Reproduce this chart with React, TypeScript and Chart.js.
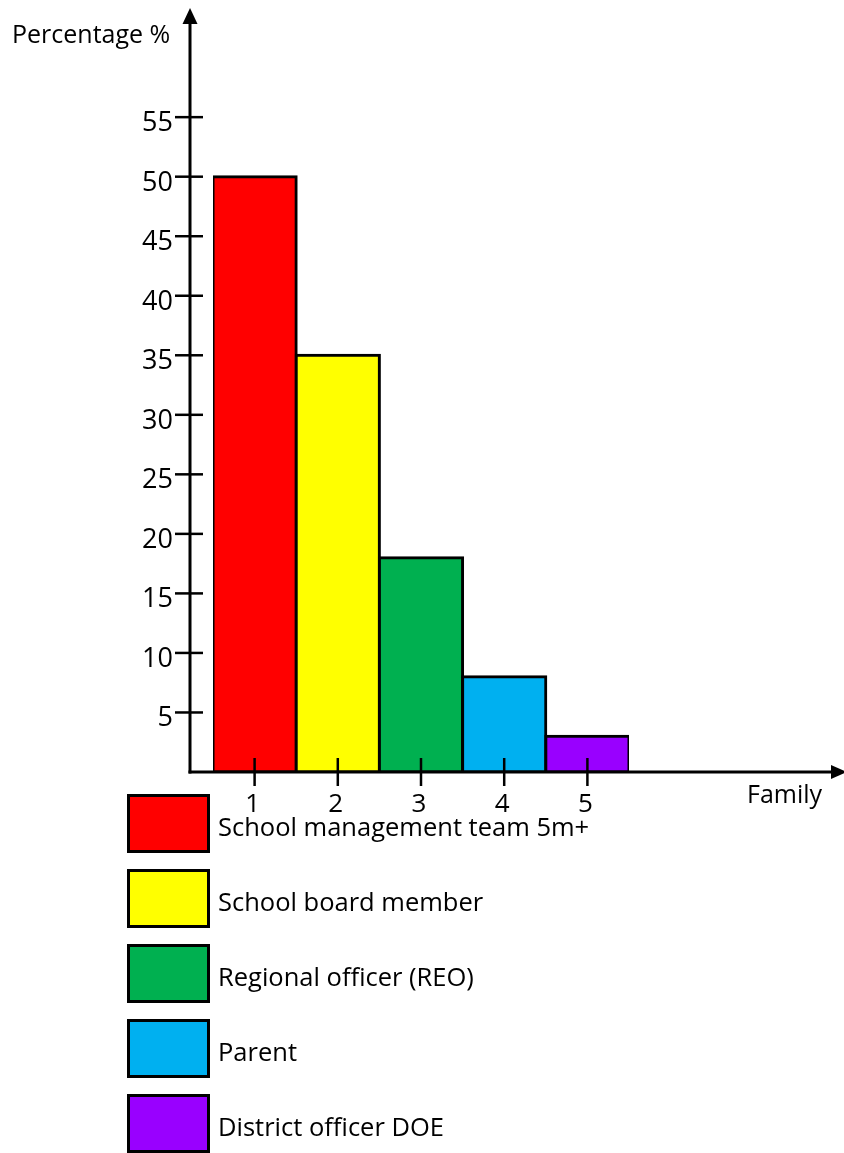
import React, { useEffect, useRef } from "react";
import { Chart, registerables } from "chart.js";

Chart.register(...registerables);

const categories = ["1", "2", "3", "4", "5"];
const values = [50, 35, 18, 8, 3];
const seriesNames = [
  "School management team 5m+",
  "School board member",
  "Regional officer (REO)",
  "Parent",
  "District officer DOE",
];
const barColors = ["#FF0000", "#FFFF00", "#00B050", "#00B0F0", "#9900FF"];
const yTickValues = [5, 10, 15, 20, 25, 30, 35, 40, 45, 50, 55];
const yAxisTitle = "Percentage %";
const xAxisTitle = "Family";

const FONT = '"Open Sans", "Noto Sans", sans-serif';
const W = 844;
const H = 1153;

const axesPlugin = {
  id: "handDrawnAxes",
  afterDatasetsDraw(chart: any) {
    const { ctx, chartArea, scales } = chart;
    const yS = scales.y;
    const xS = scales.x;
    const axisX = chartArea.left - 23;
    const axisY = yS.getPixelForValue(0);
    ctx.save();
    ctx.strokeStyle = "#000";
    ctx.fillStyle = "#000";
    ctx.lineCap = "butt";

    // y axis with arrow
    const tipY = chartArea.top - 2;
    ctx.lineWidth = 3;
    ctx.beginPath();
    ctx.moveTo(axisX, axisY + 1.5);
    ctx.lineTo(axisX, tipY + 14);
    ctx.stroke();
    ctx.beginPath();
    ctx.moveTo(axisX, tipY);
    ctx.lineTo(axisX - 7.5, tipY + 16);
    ctx.lineTo(axisX + 7.5, tipY + 16);
    ctx.closePath();
    ctx.fill();

    // x axis with arrow
    const tipX = chart.width + 3;
    ctx.beginPath();
    ctx.moveTo(axisX - 1.5, axisY);
    ctx.lineTo(tipX - 14, axisY);
    ctx.stroke();
    ctx.beginPath();
    ctx.moveTo(tipX, axisY);
    ctx.lineTo(tipX - 16, axisY - 7);
    ctx.lineTo(tipX - 16, axisY + 7);
    ctx.closePath();
    ctx.fill();

    // y ticks
    ctx.lineWidth = 2.5;
    ctx.font = `27px ${FONT}`;
    ctx.textAlign = "right";
    ctx.textBaseline = "alphabetic";
    yTickValues.forEach((v) => {
      const py = yS.getPixelForValue(v);
      ctx.beginPath();
      ctx.moveTo(axisX - 15, py);
      ctx.lineTo(axisX + 13, py);
      ctx.stroke();
      ctx.fillText(String(v), axisX - 17, py + 14);
    });

    // x ticks
    ctx.textAlign = "center";
    ctx.font = `26px ${FONT}`;
    categories.forEach((c, i) => {
      const px = xS.getPixelForValue(i);
      ctx.beginPath();
      ctx.moveTo(px, axisY - 14);
      ctx.lineTo(px, axisY + 14);
      ctx.stroke();
      ctx.fillText(c, px - 2, axisY + 40);
    });

    // titles
    ctx.font = `25px ${FONT}`;
    ctx.textAlign = "left";
    ctx.fillText(yAxisTitle, 12, chartArea.top + 33);
    ctx.fillText(xAxisTitle, 747, axisY + 31);

    // legend
    const boxLeft = 127;
    const boxW = 83;
    const boxH = 59;
    const firstTop = axisY + 22;
    const pitch = 75;
    ctx.font = `25.5px ${FONT}`;
    seriesNames.forEach((name, i) => {
      const top = firstTop + i * pitch;
      ctx.fillStyle = barColors[i];
      ctx.fillRect(boxLeft, top, boxW, boxH);
      ctx.lineWidth = 3;
      ctx.strokeStyle = "#000";
      ctx.strokeRect(boxLeft + 1.5, top + 1.5, boxW - 3, boxH - 3);
      ctx.fillStyle = "#000";
      ctx.fillText(name, boxLeft + boxW + 8, top + 42);
    });
    ctx.restore();
  },
};

export default function App() {
  const canvasRef = useRef<HTMLCanvasElement | null>(null);

  useEffect(() => {
    let chart: Chart | null = null;
    let cancelled = false;
    const build = () => {
      if (cancelled || !canvasRef.current) return;
      chart = new Chart(canvasRef.current, {
        type: "bar",
        data: {
          labels: categories,
          datasets: [
            {
              data: values,
              backgroundColor: barColors,
              borderColor: "#000",
              borderWidth: 3,
              borderSkipped: false,
              inflateAmount: 1.5,
              categoryPercentage: 1,
              barPercentage: 1,
            } as any,
          ],
        },
        options: {
          responsive: false,
          animation: false,
          layout: { padding: { left: 213, right: 215, top: 10, bottom: 381 } },
          scales: {
            x: { display: false, offset: true },
            y: { display: false, min: 0, max: 64 },
          },
          plugins: { legend: { display: false }, tooltip: { enabled: false } },
        },
        plugins: [axesPlugin],
      });
    };
    const fonts: any = (document as any).fonts;
    if (fonts && fonts.load) {
      fonts.load(`25px "Open Sans"`).then(build, build);
    } else {
      build();
    }
    return () => {
      cancelled = true;
      if (chart) chart.destroy();
    };
  }, []);

  return (
    <div style={{ position: "absolute", left: 0, top: 0, width: W, height: H, background: "#fff" }}>
      <canvas ref={canvasRef} width={W} height={H} style={{ display: "block" }} />
    </div>
  );
}
